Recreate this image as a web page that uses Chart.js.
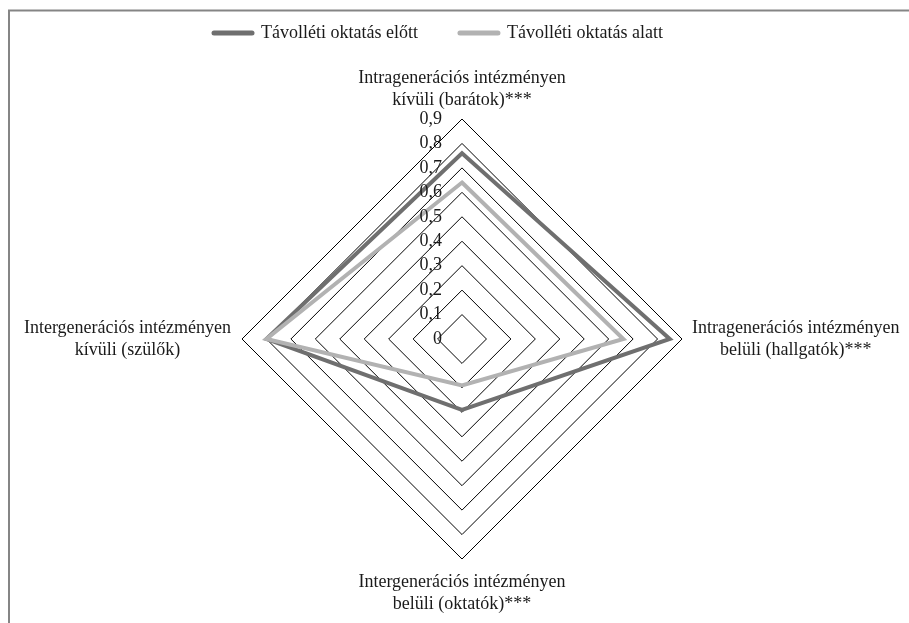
<!DOCTYPE html>
<html lang="hu">
<head>
  <meta charset="UTF-8">
  <title>Radar</title>
  <style>
    body { margin: 0; background: #fff; }
    .chartBox { position: relative; width: 909px; height: 623px; }
  </style>
</head>
<body>

  <div class="chartBox">
    <canvas id="myChart" width="909" height="623"></canvas>
  </div>

<script src="https://cdn.jsdelivr.net/npm/chart.js/dist/chart.umd.min.js"></script>
<script>
  // data
  const categories = [
    ['Intragenerációs intézményen', 'kívüli (barátok)***'],
    ['Intragenerációs intézményen', 'belüli (hallgatók)***'],
    ['Intergenerációs intézményen', 'belüli (oktatók)***'],
    ['Intergenerációs intézményen', 'kívüli (szülők)']
  ];
  const seriesNames = ['Távolléti oktatás előtt', 'Távolléti oktatás alatt'];
  const beforeValues = [0.76, 0.85, 0.29, 0.80];
  const duringValues = [0.64, 0.66, 0.19, 0.80];
  const tickLabels = ['0', '0,1', '0,2', '0,3', '0,4', '0,5', '0,6', '0,7', '0,8', '0,9'];

  const FONT = '"Liberation Serif", "Times New Roman", serif';
  const TEXT = '#1a1a1a';

  // frame, tick labels, centred point labels and legend
  const decorations = {
    id: 'decorations',
    beforeDraw(chart) {
      const ctx = chart.ctx;
      ctx.save();
      ctx.strokeStyle = '#858585';
      ctx.lineWidth = 2;
      ctx.beginPath();
      ctx.moveTo(9, chart.height);
      ctx.lineTo(9, 10.5);
      ctx.lineTo(chart.width, 10.5);
      ctx.stroke();
      ctx.restore();
    },
    afterDraw(chart) {
      const ctx = chart.ctx;
      const scale = chart.scales.r;
      ctx.save();
      ctx.font = '18px ' + FONT;
      ctx.fillStyle = TEXT;

      // tick labels, right aligned left of the vertical axis
      ctx.textAlign = 'right';
      ctx.textBaseline = 'middle';
      scale.ticks.forEach(t => {
        const d = scale.getDistanceFromCenterForValue(t.value);
        ctx.fillText(t.label, scale.xCenter - 20, scale.yCenter - d);
      });

      // point labels
      const lineH = 22;
      ctx.textAlign = 'center';
      categories.forEach((lines, i) => {
        const p = scale.getPointPosition(i, scale.drawingArea);
        const w = Math.max(...lines.map(s => ctx.measureText(s).width));
        const h = lines.length * lineH;
        const dx = p.x - scale.xCenter, dy = p.y - scale.yCenter;
        let cx = p.x, top;
        if (Math.abs(dy) > Math.abs(dx)) {
          top = dy < 0 ? p.y - 8 - h : p.y + 12;
        } else {
          top = p.y - h / 2;
          cx = dx > 0 ? p.x + 10 + w / 2 : p.x - 11 - w / 2;
        }
        lines.forEach((s, k) => ctx.fillText(s, cx, top + lineH * (k + 0.5)));
      });

      // legend
      const ly = 33, lineLen = 42, textGap = 7, itemGap = 40;
      ctx.textAlign = 'left';
      let x = 212;
      chart.data.datasets.forEach(ds => {
        ctx.strokeStyle = ds.borderColor;
        ctx.lineWidth = 5;
        ctx.lineCap = 'round';
        ctx.beginPath();
        ctx.moveTo(x + 2, ly);
        ctx.lineTo(x + lineLen - 2, ly);
        ctx.stroke();
        x += lineLen + textGap;
        ctx.fillText(ds.label, x, ly);
        x += ctx.measureText(ds.label).width + itemGap;
      });
      ctx.restore();
    }
  };

  const data = {
    labels: categories,
    datasets: [{
      label: seriesNames[0],
      data: beforeValues,
      borderColor: '#6f6f6f',
      order: 1
    }, {
      label: seriesNames[1],
      data: duringValues,
      borderColor: '#b2b2b2',
      order: 0
    }]
  };

  const config = {
    type: 'radar',
    data,
    options: {
      responsive: false,
      animation: false,
      layout: {
        padding: { top: 119, bottom: 64, left: 242, right: 227 }
      },
      elements: {
        point: { radius: 0, hoverRadius: 0 },
        line: { borderWidth: 4, fill: false, tension: 0 }
      },
      scales: {
        r: {
          min: 0,
          max: 0.9,
          ticks: {
            stepSize: 0.1,
            display: false,
            callback: (v, i) => tickLabels[i]
          },
          grid: { color: '#000', lineWidth: 1 },
          angleLines: { display: false },
          pointLabels: { display: false }
        }
      },
      plugins: {
        legend: { display: false },
        tooltip: { enabled: false }
      }
    },
    plugins: [decorations]
  };

  const myChart = new Chart(document.getElementById('myChart'), config);
</script>
</body>
</html>
